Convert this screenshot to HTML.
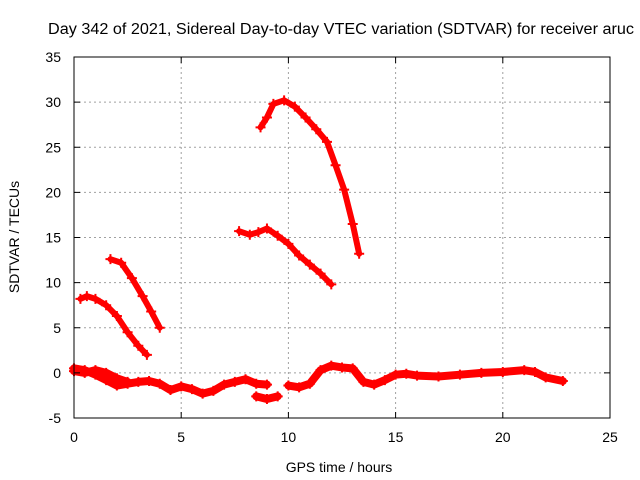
<!DOCTYPE html>
<html><head><meta charset="utf-8"><style>
body{margin:0;background:#fff;overflow:hidden;}
svg{display:block;font-family:"Liberation Sans",sans-serif;}
</style></head><body>
<svg id="chart" width="640" height="480">
<text x="48" y="34" font-size="15.5" textLength="586" lengthAdjust="spacingAndGlyphs">Day 342 of 2021, Sidereal Day-to-day VTEC variation (SDTVAR) for receiver aruc</text>
<g id="grid"></g><g id="series"></g><g id="axes"></g>
<text x="339" y="472" text-anchor="middle" font-size="14">GPS time / hours</text>
<text transform="translate(19,237) rotate(-90)" text-anchor="middle" font-size="14">SDTVAR / TECUs</text>
</svg>
<script>
const xTicks=[0,5,10,15,20,25];
const yTicks=[-5,0,5,10,15,20,25,30,35];
const seg1X=[0.3,0.6,1.0,1.5,2.0,2.5,3.0,3.4];
const seg1Y=[8.2,8.5,8.2,7.5,6.3,4.5,3.0,2.0];
const seg2X=[1.7,2.2,2.7,3.2,3.6,4.0];
const seg2Y=[12.6,12.2,10.5,8.5,6.8,5.0];
const seg3X=[7.7,8.2,8.6,9.0,9.5,10.0,10.5,11.0,11.5,12.0];
const seg3Y=[15.7,15.3,15.6,16.0,15.2,14.3,13.0,12.0,11.0,9.8];
const seg4X=[8.7,9.0,9.3,9.8,10.3,10.8,11.3,11.8,12.2,12.6,13.0,13.3];
const seg4Y=[27.2,28.3,29.8,30.2,29.5,28.3,27.0,25.6,23.0,20.3,16.5,13.2];
const seg5X=[0,0.5,1.0,1.5,2.0,2.5,3.0,3.5,4.0,4.5,5.0,5.5,6.0,6.5,7.0,7.5,8.0,8.5,9.0];
const seg5Y=[0.5,0.3,-0.2,-0.8,-1.4,-1.2,-1.0,-0.9,-1.2,-1.9,-1.5,-1.8,-2.3,-2.0,-1.3,-1.0,-0.7,-1.2,-1.3];
const seg6X=[0,0.5,1.0,1.5,2.0,2.5];
const seg6Y=[0.2,0.0,0.3,0.0,-0.6,-1.0];
const seg7X=[8.5,9.0,9.5];
const seg7Y=[-2.6,-2.9,-2.6];
const seg8X=[10.0,10.5,11.0,11.5,12.0,12.5,13.0,13.5,14.0,14.5,15.0,15.5,16.0,17.0,18.0,19.0,20.0,21.0,21.5,22.0,22.8];
const seg8Y=[-1.4,-1.6,-1.2,0.3,0.8,0.6,0.5,-1.0,-1.3,-0.8,-0.2,-0.1,-0.3,-0.4,-0.2,0.0,0.1,0.3,0.1,-0.5,-0.9];
const segsX=[seg1X,seg2X,seg3X,seg4X,seg5X,seg6X,seg7X,seg8X];
const segsY=[seg1Y,seg2Y,seg3Y,seg4Y,seg5Y,seg6Y,seg7Y,seg8Y];
const L=74,R=610,T=57,B=418;
const sx=v=>L+(v-0)/(25-0)*(R-L);
const sy=v=>B-(v+5)/(40)*(B-T);
const NS="http://www.w3.org/2000/svg";
function mk(t,a,p){const e=document.createElementNS(NS,t);for(const k in a)e.setAttribute(k,a[k]);p.appendChild(e);return e;}
const grid=document.getElementById('grid'),axes=document.getElementById('axes'),ser=document.getElementById('series');
xTicks.forEach(t=>{
 if(t>0&&t<25){const g=mk('line',{x1:sx(t),x2:sx(t),y1:T,y2:B,stroke:'#a0a0a0','stroke-dasharray':'2,3'},grid);
 }
 const k=mk('line',{x1:sx(t),x2:sx(t),y1:B,y2:B-6,stroke:'#000'},axes);
 
 const k2=mk('line',{x1:sx(t),x2:sx(t),y1:T,y2:T+6,stroke:'#000'},axes);
 
 const tx=mk('text',{x:sx(t),y:B+24,'text-anchor':'middle','font-size':14},axes);tx.textContent=t;
 
});
yTicks.forEach(t=>{
 if(t>-5&&t<35){const g=mk('line',{x1:L,x2:R,y1:sy(t),y2:sy(t),stroke:'#a0a0a0','stroke-dasharray':'2,3'},grid);
 }
 const k=mk('line',{x1:L,x2:L+6,y1:sy(t),y2:sy(t),stroke:'#000'},axes);
 
 const k2=mk('line',{x1:R,x2:R-6,y1:sy(t),y2:sy(t),stroke:'#000'},axes);
 
 const tx=mk('text',{x:L-13,y:sy(t)+5,'text-anchor':'end','font-size':14},axes);tx.textContent=t;
 
});
const fr=mk('rect',{x:L,y:T,width:R-L,height:B-T,fill:'none',stroke:'#000'},axes);

segsX.forEach((xs,i)=>{
 const ys=segsY[i];
 const pts=xs.map((x,j)=>sx(x)+','+sy(ys[j])).join(' ');
 const w=i>=4?8:6;
 const pl=mk('polyline',{points:pts,fill:'none',stroke:'#ff0000','stroke-width':w,'stroke-linejoin':'round','stroke-linecap':'round'},ser);
 
 
 xs.forEach((x,j)=>{
  const p=mk('path',{d:`M${sx(x)-5},${sy(ys[j])}h10M${sx(x)},${sy(ys[j])-5}v10`,stroke:'#ff0000','stroke-width':2},ser);
  
  
 });
});
</script>
</body></html>
